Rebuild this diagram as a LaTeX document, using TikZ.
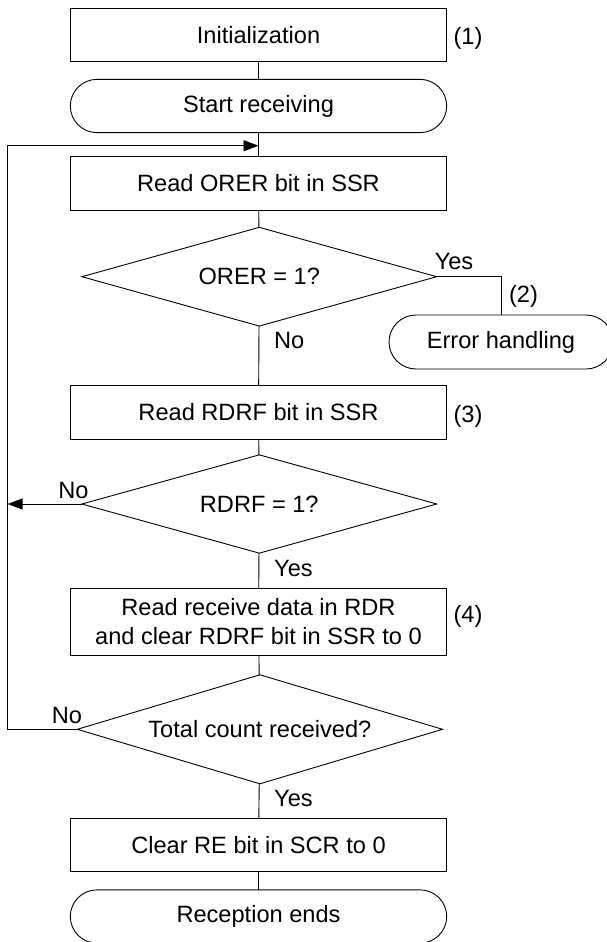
\documentclass[tikz,border=0pt]{standalone}
\usepackage{fontspec}
\setmainfont{Liberation Sans}
\usetikzlibrary{shapes.geometric,shapes.misc,arrows.meta}
\begin{document}
\begin{tikzpicture}[x=1pt,y=-1pt,
  every node/.style={font=\fontsize{23.6}{28.3}\selectfont},
  line/.style={draw=black,line width=0.9pt},
  procbox/.style={line,rectangle,minimum width=376.4pt,minimum height=53.3pt,inner sep=0pt,outer sep=0pt,align=center},
  termbox/.style={line,rounded rectangle,minimum width=376.4pt,minimum height=53.3pt,inner sep=0pt,outer sep=0pt},
  decbox/.style={line,diamond,inner sep=0pt,outer sep=0pt},
  lbl/.style={inner sep=0pt},
  arr/.style={line,-{Triangle[length=15pt,width=11pt]}}
]
\useasboundingbox (0,0) rectangle (606,942);

\node[procbox] (init) at (258.5,35.3) {Initialization};
\node[termbox] (start) at (258.5,106) {Start receiving};
\node[procbox] (rorer) at (258.5,183.3) {Read ORER bit in SSR};
\node[decbox,minimum width=354.8pt,minimum height=98.7pt] (orer) at (259.3,276.7) {\makebox[0pt]{ORER = 1?}};
\node[termbox,minimum width=224pt,minimum height=54pt] (err) at (501,342) {Error handling};
\node[procbox] (rrdrf) at (258.5,412.5) {Read RDRF bit in SSR};
\node[decbox,minimum width=354.8pt,minimum height=98.3pt] (rdrf) at (259.3,504) {\makebox[0pt]{RDRF = 1?}};
\node[procbox,minimum height=66.7pt] (rdata) at (258.5,621.7) {Read receive data in RDR\\and clear RDRF bit in SSR to 0};
\node[decbox,minimum width=365.2pt,minimum height=109pt] (tot) at (259.9,729.3) {\makebox[0pt]{Total count received?}};
\node[procbox] (clr) at (258.5,844.7) {Clear RE bit in SCR to 0};
\node[termbox] (endr) at (258.5,916.5) {Reception ends};

\coordinate (j1) at (258.5,145.7);
\coordinate (ltop) at (7.5,145.7);

\node[lbl] (n1) at (468,38) {(1)};
\node[lbl] (n2) at (523.5,296.7) {(2)};
\node[lbl] (n3) at (468,416.7) {(3)};
\node[lbl] (n4) at (468,616.7) {(4)};
\node[lbl] (y1) at (454,261.7) {Yes};
\node[lbl,anchor=west] (no1) at (274,340) {No};
\node[lbl] (no2) at (73.5,490) {No};
\node[lbl,anchor=west] (y2) at (274,568.3) {Yes};
\node[lbl] (no3) at (67,715) {No};
\node[lbl,anchor=west] (y3) at (274,798.3) {Yes};

\draw[line] (init) -- (start);
\draw[line] (start) -- (rorer);
\draw[line] (rorer) -- (orer);
\draw[line] (orer.east) -| (err.north);
\draw[line] (orer) -- (rrdrf);
\draw[line] (rrdrf) -- (rdrf);
\draw[line] (rdrf) -- (rdata);
\draw[line] (rdata) -- (tot);
\draw[line] (tot) -- (clr);
\draw[line] (clr) -- (endr);
\draw[arr] (rdrf.west) -- (rdrf.west -| ltop);
\draw[arr] (tot.west) -- (tot.west -| ltop) -- (ltop) -- (j1);
\end{tikzpicture}
\end{document}
